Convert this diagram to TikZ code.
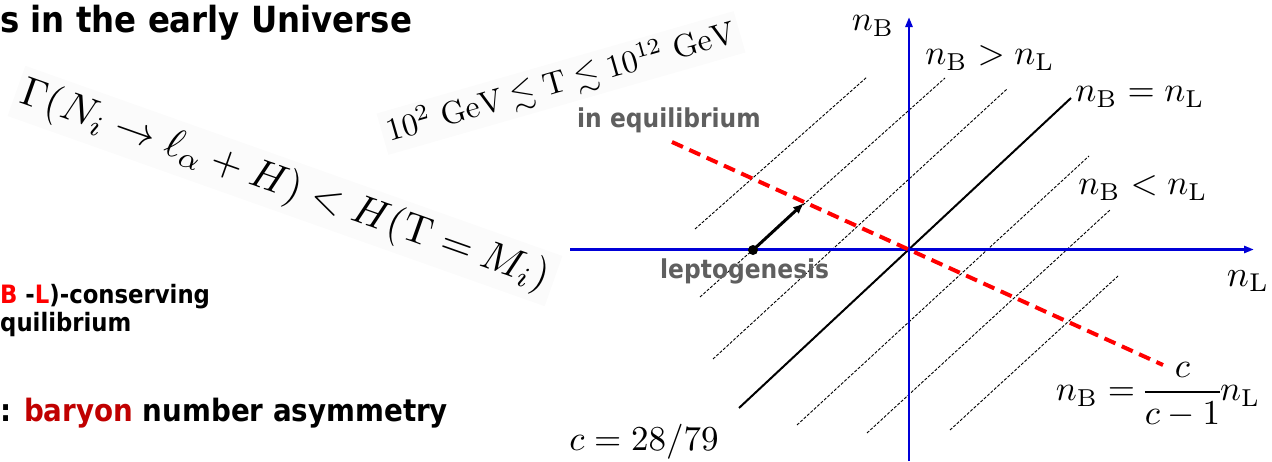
\documentclass[tikz,border=0pt]{standalone}
\usepackage{amsmath,amssymb}
\usepackage{fontspec}
\newfontfamily\tah{DejaVu Sans}[FakeStretch=0.9]
\usetikzlibrary{arrows.meta}
\definecolor{axisblue}{RGB}{0,0,215}
\definecolor{eqred}{RGB}{255,0,0}
\definecolor{darkred}{RGB}{192,0,0}
\definecolor{labgray}{RGB}{95,95,95}
\tikzset{
  axis/.style={draw=axisblue, line width=2.5pt, -{Triangle[length=10pt,width=7pt]}},
  bldash/.style={draw=black, line width=0.9pt, dash pattern=on 3pt off 1.6pt},
  solidline/.style={draw=black, line width=2pt},
  reddash/.style={draw=eqred, line width=4pt, dash pattern=on 12pt off 7pt},
  mlab/.style={inner sep=0pt, scale=3.5},
  bold/.style={anchor=base west, inner sep=0pt, font=\tah\bfseries},
  graylab/.style={bold, text=labgray, font=\tah\bfseries\fontsize{26}{30}\selectfont},
  shade/.style={fill=black!1.5, inner sep=1.5pt},
}
\begin{document}
\begin{tikzpicture}[x=1pt,y=-1pt]
\useasboundingbox (0,0) rectangle (1272,461);

% left texts
\node[bold, font=\tah\bfseries\fontsize{36}{40}\selectfont] (title) at (0,32) {s in the early Universe};
\node[bold, font=\tah\bfseries\fontsize{25.3}{30}\selectfont] (bl) at (0,303) {\textcolor{eqred}{B} -\textcolor{eqred}{L})-conserving};
\node[bold, font=\tah\bfseries\fontsize{25.3}{30}\selectfont] (qu) at (0,331) {quilibrium};
\node[bold, font=\tah\bfseries\fontsize{30.8}{34}\selectfont] (asym) at (0,421) {: \textcolor{darkred}{baryon} number asymmetry};

% rotated formulas
\node[rotate=-19.5, scale=4.1, shade] (gam) at (285,186) {$\Gamma(N_i\to\ell_\alpha+H)<H(\mathrm{T}=M_i)$};
\node[rotate=16, scale=3.2, shade] (temp) at (561,83) {$10^2~\mathrm{GeV}\lesssim \mathrm{T}\lesssim 10^{12}~\mathrm{GeV}$};

% coordinates
\coordinate (O) at (909,249.5);
\coordinate (xs) at (570,249.5);
\coordinate (xe) at (1254,249.5);
\coordinate (ys) at (909,461);
\coordinate (ye) at (909,17);

% B-L conserving lines
\draw[bldash] (695,229) -- (867,77);
\draw[bldash] (700,297) -- (945,78);
\draw[bldash] (713,359) -- (1007,89);
\draw[solidline] (739,408) -- (1071,98);
\draw[bldash] (797,425) -- (1089,156);
\draw[bldash] (867,433) -- (1110,210);
\draw[bldash] (950,430) -- (1118,276);

% axes
\draw[axis] (xs) -- (xe);
\draw[axis] (ys) -- (ye);

% equilibrium line
\coordinate (r1) at (672,142);
\coordinate (r2) at (1163,365);
\draw[reddash] (r1) -- (r2);

% leptogenesis arrow
\node[circle, fill=black, inner sep=0pt, minimum size=10pt] (dot) at (753,250) {};
\coordinate (tip) at (804,203);
\draw[line width=3pt, -{Latex[length=11pt,width=9pt]}] (dot.center) -- (tip);

% labels
\node[mlab] (lnB) at (873,26) {$n_{\mathrm{B}}$};
\node[mlab, scale=1.05] (lnL) at (1248,281) {$n_{\mathrm{L}}$};
\node[mlab] (gt) at (990,58) {$n_{\mathrm{B}} > n_{\mathrm{L}}$};
\node[mlab] (eq) at (1140,97) {$n_{\mathrm{B}} = n_{\mathrm{L}}$};
\node[mlab] (lt) at (1143,188) {$n_{\mathrm{B}} < n_{\mathrm{L}}$};
\node[mlab] (frac) at (1158,395) {$\nulldelimiterspace=0pt n_{\mathrm{B}} = \dfrac{c}{c-1}n_{\mathrm{L}}$};
\node[mlab] (cval) at (644,442) {$c = 28/79$};

\node[graylab] (ineq) at (577,127) {in equilibrium};
\node[graylab] (lep) at (660,278) {leptogenesis};
\end{tikzpicture}
\end{document}
